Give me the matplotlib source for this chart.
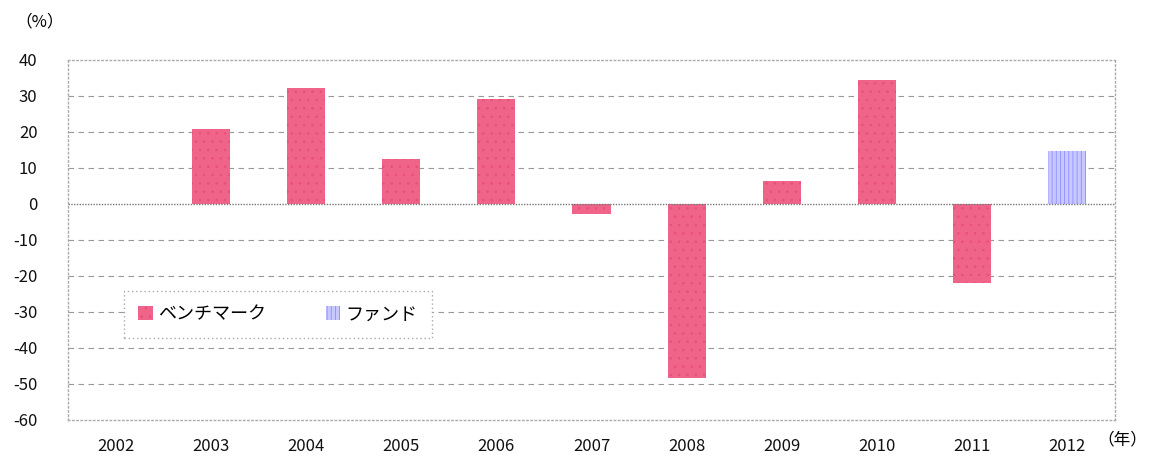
import matplotlib
matplotlib.use("Agg")
import matplotlib.pyplot as plt
import numpy as np

plt.rcParams['font.family'] = ['Noto Sans CJK JP', 'DejaVu Sans']
plt.rcParams['hatch.linewidth'] = 0.6

years = ['2002', '2003', '2004', '2005', '2006', '2007', '2008', '2009', '2010', '2011', '2012']
benchmark = [np.nan, 20.8, 32.2, 12.4, 29.2, -2.8, -48.4, 6.4, 34.4, -21.9, np.nan]
fund = [np.nan, np.nan, np.nan, np.nan, np.nan, np.nan, np.nan, np.nan, np.nan, np.nan, 14.8]
yticks = [40, 30, 20, 10, 0, -10, -20, -30, -40, -50, -60]

fig = plt.figure(figsize=(11.51, 4.57), dpi=100)
ax = fig.add_axes([68/1151, 1-420/457, (1115-68)/1151, (420-60)/457])

x = np.arange(len(years))
w = 0.4
ax.bar(x, benchmark, width=w, color='#f0648a', edgecolor='#e85078', hatch='..', linewidth=0,
       label='ベンチマーク', zorder=3)
ax.bar(x, fund, width=w, color='#c8c8ff', edgecolor='#8c8cff', hatch='||||', linewidth=0,
       label='ファンド', zorder=3)

ax.set_xlim(-0.5, len(years) - 0.5)
ax.set_ylim(-60, 40)
ax.set_yticks(yticks)
ax.set_yticklabels([str(v) for v in yticks], fontsize=12)
ax.set_xticks(x)
ax.set_xticklabels(years, fontsize=12)
ax.tick_params(axis='both', length=0, labelcolor='#111111')
ax.tick_params(axis='y', pad=22)
ax.tick_params(axis='x', pad=13)

for v in yticks:
    if v in (40, -60):
        continue
    if v == 0:
        ax.axhline(0, color='#777777', lw=1.0, ls=(0, (1, 1)), zorder=4)
    else:
        ax.axhline(v, color='#999999', lw=0.8, ls=(0, (5, 4)), zorder=1)

for s in ax.spines.values():
    s.set_color('#aaaaaa')
    s.set_linestyle((0, (1, 2)))
    s.set_linewidth(1.0)

leg = ax.legend(loc='upper left', bbox_to_anchor=((115-68)/1047, (420-282)/360), ncol=2,
                frameon=True, fancybox=False, fontsize=13, handlelength=0.8, handleheight=0.8,
                handletextpad=0.3, columnspacing=3.3, borderpad=0.8, framealpha=1)
leg.get_frame().set_edgecolor('#aaaaaa')
leg.get_frame().set_linestyle((0, (1, 2)))
leg.get_frame().set_linewidth(1.0)

fig.text(40/1151, 1-22/457, '（%）', fontsize=12, ha='center', va='center')
fig.text(1097/1151, 1-440/457, '（年）', fontsize=12, ha='left', va='center')

fig.savefig('out.png', dpi=100)
